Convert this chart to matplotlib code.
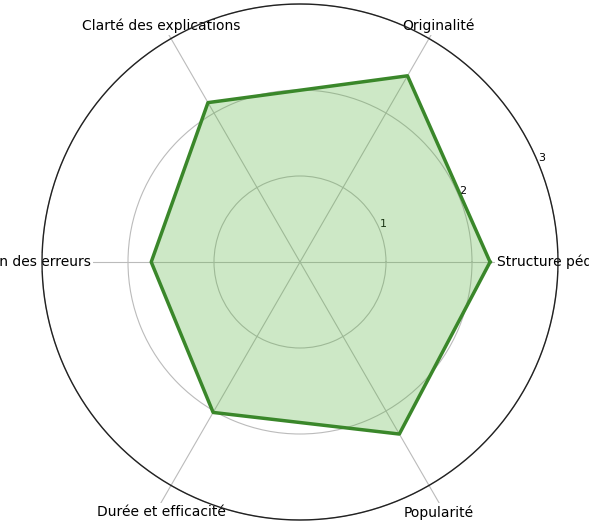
import numpy as np
import matplotlib.pyplot as plt

# critères évalués et notes moyennes (échelle 0-3)
categories = ['Structure pédagogique', 'Originalité', 'Clarté des explications',
              'Gestion des erreurs', 'Durée et efficacité', 'Popularité']
scores = [2.21, 2.5, 2.14, 1.73, 2.02, 2.31]
r_ticks = [1, 2, 3]

n = len(categories)
angles = np.linspace(0, 2 * np.pi, n, endpoint=False).tolist()
values = scores + scores[:1]
angles_closed = angles + angles[:1]

r_max = r_ticks[-1]
r_lim = 3.28  # les rayons dépassent un peu le cercle extérieur

fig = plt.figure(figsize=(5.89, 5.25), dpi=100)
cx, cy = 300, 262
rad = 258 * r_lim / r_max
ax = fig.add_axes([(cx - rad) / 589, (525 - cy - rad) / 525, 2 * rad / 589, 2 * rad / 525],
                  projection='polar')
ax.set_axisbelow(True)

ax.plot(angles_closed, values, color='#3a872a', linewidth=2.5, zorder=4)
ax.fill(angles_closed, values, color='#5cb544', alpha=0.3, zorder=1)

ax.set_ylim(0, r_lim)
ax.set_yticks(r_ticks)
ax.set_yticklabels([str(t) for t in r_ticks], fontsize=8)
ax.set_rlabel_position(22.5)
ax.set_xticks(angles)
ax.set_xticklabels([])
ax.grid(color='#bbbbbb', linewidth=0.8)
ax.spines['polar'].set_visible(False)

# cercle extérieur noir à la note maximale
ring = np.linspace(0, 2 * np.pi, 361)
ax.plot(ring, np.full_like(ring, r_max), color='#222222', linewidth=1.0, zorder=5)

# libellés des critères, fond blanc par-dessus les rayons
label_rx = 277 * 0.72  # en points
label_ry = 273 * 0.72
drop = 14 * 0.72       # libellés du bas un peu plus bas
for a, name in zip(angles, categories):
    dx = label_rx * np.cos(a)
    dy = label_ry * np.sin(a)
    if np.sin(a) < -0.5:
        dy -= drop
    ax.annotate(name, xy=(0.5, 0.5), xycoords='axes fraction',
                xytext=(dx, dy), textcoords='offset points',
                ha='center', va='center', fontsize=10, zorder=3,
                bbox=dict(boxstyle='square,pad=0.15', fc='white', ec='none'))

fig.savefig('out.png', dpi=100)
